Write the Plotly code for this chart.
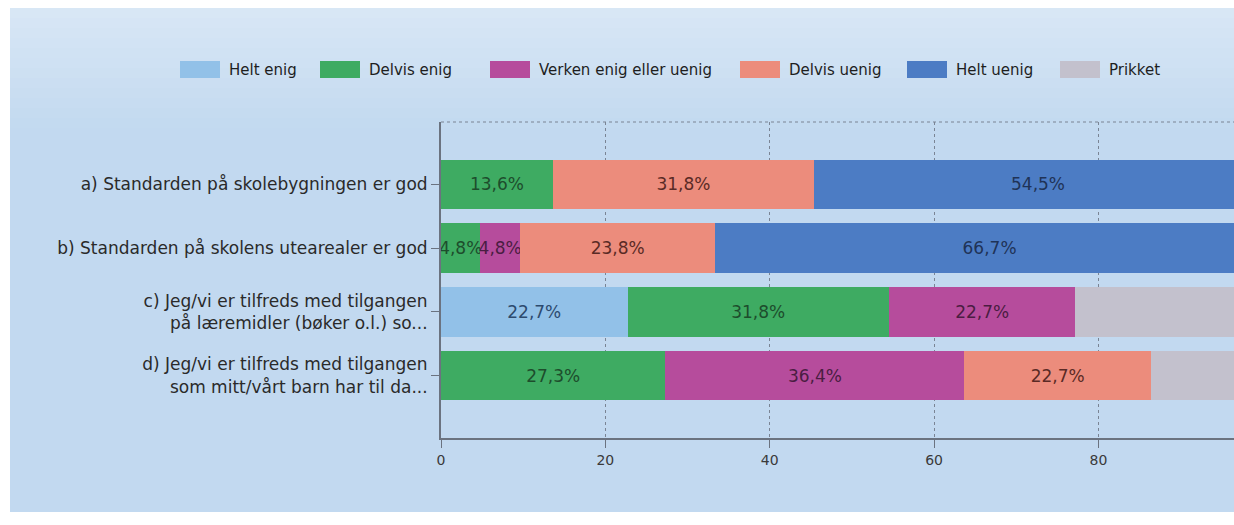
import plotly.graph_objects as go

questions = [
    "a) Standarden på skolebygningen er god",
    "b) Standarden på skolens utearealer er god",
    "c) Jeg/vi er tilfreds med tilgangen<br>på læremidler (bøker o.l.) so...",
    "d) Jeg/vi er tilfreds med tilgangen<br>som mitt/vårt barn har til da...",
]

helt_enig = [0, 0, 22.7, 0]
delvis_enig = [13.6, 4.8, 31.8, 27.3]
verken = [0, 4.8, 22.7, 36.4]
delvis_uenig = [31.8, 23.8, 0, 22.7]
helt_uenig = [54.5, 66.7, 0, 0]
prikket = [0, 0, 22.7, 13.6]

series = [
    ("Helt enig", helt_enig, "#92c1e8", "#2c4a6e", True),
    ("Delvis enig", delvis_enig, "#3eab62", "#1d4d2c", True),
    ("Verken enig eller uenig", verken, "#b64c9c", "#4a1d42", True),
    ("Delvis uenig", delvis_uenig, "#ec8c7c", "#5a2a25", True),
    ("Helt uenig", helt_uenig, "#4c7cc4", "#1f3357", True),
    ("Prikket", prikket, "#c3c1cd", "#444444", False),
]

# legend swatch left edges, in pixels
legend_x = [180, 320, 490, 740, 907, 1060]

W, H = 1234, 525
# plot area in pixels
PL, PR, PT, PB = 441, 1234, 122, 438


def px(sx):
    return (sx - PL) / (PR - PL)


def py(sy):
    return (PB - sy) / (PB - PT)


fig = go.Figure()
for name, vals, color, tcolor, show_text in series:
    fig.add_trace(go.Bar(
        y=questions,
        x=vals,
        name=name,
        orientation="h",
        marker=dict(color=color, line=dict(width=0)),
        text=[f"{v:.1f}".replace(".", ",") + "%" if (v > 0 and show_text) else "" for v in vals],
        textposition="inside",
        insidetextanchor="middle",
        textangle=0,
        textfont=dict(color=tcolor, size=17),
        hoverinfo="skip",
        showlegend=False,
    ))

shapes = []
annotations = []

# card behind the chart, lighter towards the top
shapes.append(dict(type="rect", xref="paper", yref="paper",
                   x0=px(10), x1=px(1300), y0=py(512), y1=py(8),
                   fillcolor="#c2d9f0", line=dict(width=0), layer="below"))
for i in range(12):
    top = 8 + i * 10
    shapes.append(dict(type="rect", xref="paper", yref="paper",
                       x0=px(10), x1=px(1300), y0=py(top + 10), y1=py(top),
                       fillcolor="white", opacity=0.36 * (1 - i / 12),
                       line=dict(width=0), layer="below"))

# dotted top border of the plot area
shapes.append(dict(type="line", xref="paper", yref="paper",
                   x0=0, x1=1, y0=1, y1=1,
                   line=dict(color="#7a8494", width=1, dash="dot")))

# legend drawn by hand to get the wide swatches
for (name, vals, color, tcolor, show_text), lx in zip(series, legend_x):
    shapes.append(dict(type="rect", xref="paper", yref="paper",
                       x0=px(lx), x1=px(lx + 40), y0=py(78), y1=py(61),
                       fillcolor=color, line=dict(width=0)))
    annotations.append(dict(xref="paper", yref="paper", x=px(lx + 47), y=py(69.5),
                            xanchor="left", yanchor="middle", showarrow=False,
                            text=name, font=dict(size=15, color="#1e1e1e")))

fig.update_layout(
    width=W,
    height=H,
    barmode="stack",
    bargap=0.22,
    paper_bgcolor="white",
    plot_bgcolor="rgba(0,0,0,0)",
    margin=dict(l=PL, r=W - PR, t=PT, b=H - PB),
    font=dict(family="DejaVu Sans", color="#333333"),
    uniformtext=dict(minsize=17, mode="show"),
    showlegend=False,
    shapes=shapes,
    annotations=annotations,
    xaxis=dict(
        range=[0, 96.5],
        tickvals=[0, 20, 40, 60, 80],
        showgrid=True,
        gridcolor="#7a8494",
        griddash="dot",
        gridwidth=1,
        zeroline=False,
        showline=True,
        linecolor="#6b7380",
        linewidth=2,
        ticks="outside",
        ticklen=8,
        tickcolor="#6b7380",
        tickfont=dict(size=14, color="#3a3a3a"),
    ),
    yaxis=dict(
        type="category",
        categoryorder="array",
        categoryarray=questions,
        range=[3.98, -0.98],
        showline=True,
        linecolor="#6b7380",
        linewidth=2,
        ticks="outside",
        ticklen=8,
        tickcolor="#6b7380",
        tickfont=dict(size=17, color="#2a2a2a"),
        showgrid=False,
    ),
)

fig.write_html("out.html", config={"displayModeBar": False},
               post_script="document.body.style.margin='0px';")
